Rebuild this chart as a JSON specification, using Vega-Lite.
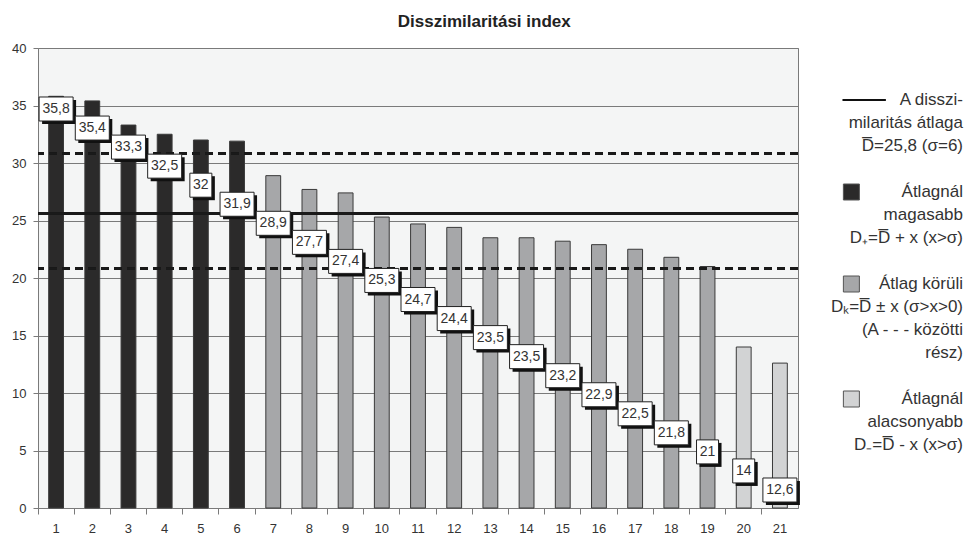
{
  "$schema": "https://vega.github.io/schema/vega-lite/v6.json",
  "padding": {"left": 5, "top": 12, "right": 5, "bottom": 0},
  "background": "white",
  "title": {"text": "Disszimilaritási index", "font": "Liberation Sans", "fontSize": 17, "fontWeight": "bold", "color": "#222222", "anchor": "middle", "frame": "bounds", "offset": 11},
  "config": {"font": "Liberation Sans", "concat": {"spacing": 0}},
  "spacing": 0,
  "datasets": {
    "bars": [
      {"k": 1, "value": 35.8, "label": "35,8", "grp": "magas"},
      {"k": 2, "value": 35.4, "label": "35,4", "grp": "magas"},
      {"k": 3, "value": 33.3, "label": "33,3", "grp": "magas"},
      {"k": 4, "value": 32.5, "label": "32,5", "grp": "magas"},
      {"k": 5, "value": 32, "label": "32", "grp": "magas"},
      {"k": 6, "value": 31.9, "label": "31,9", "grp": "magas"},
      {"k": 7, "value": 28.9, "label": "28,9", "grp": "korul"},
      {"k": 8, "value": 27.7, "label": "27,7", "grp": "korul"},
      {"k": 9, "value": 27.4, "label": "27,4", "grp": "korul"},
      {"k": 10, "value": 25.3, "label": "25,3", "grp": "korul"},
      {"k": 11, "value": 24.7, "label": "24,7", "grp": "korul"},
      {"k": 12, "value": 24.4, "label": "24,4", "grp": "korul"},
      {"k": 13, "value": 23.5, "label": "23,5", "grp": "korul"},
      {"k": 14, "value": 23.5, "label": "23,5", "grp": "korul"},
      {"k": 15, "value": 23.2, "label": "23,2", "grp": "korul"},
      {"k": 16, "value": 22.9, "label": "22,9", "grp": "korul"},
      {"k": 17, "value": 22.5, "label": "22,5", "grp": "korul"},
      {"k": 18, "value": 21.8, "label": "21,8", "grp": "korul"},
      {"k": 19, "value": 21, "label": "21", "grp": "korul"},
      {"k": 20, "value": 14, "label": "14", "grp": "alacsony"},
      {"k": 21, "value": 12.6, "label": "12,6", "grp": "alacsony"}
    ],
    "legend": [
      {"row": 0, "text": "A disszi-"},
      {"row": 1, "text": "milaritás átlaga"},
      {"row": 2, "text": "D\u0305=25,8 (σ=6)"},
      {"row": 4, "text": "Átlagnál"},
      {"row": 5, "text": "magasabb"},
      {"row": 6, "text": "D₊=D\u0305 + x (x>σ)"},
      {"row": 8, "text": "Átlag körüli"},
      {"row": 9, "text": "Dₖ=D\u0305 ± x (σ>x>0)"},
      {"row": 10, "text": "(A - - - közötti"},
      {"row": 11, "text": "rész)"},
      {"row": 13, "text": "Átlagnál"},
      {"row": 14, "text": "alacsonyabb"},
      {"row": 15, "text": "D₋=D\u0305 - x (x>σ)"},
      {"row": 0, "sym": "line"},
      {"row": 4, "sym": "magas"},
      {"row": 8, "sym": "korul"},
      {"row": 13, "sym": "alacsony"}
    ]
  },
  "hconcat": [
    {
      "width": 760,
      "height": 460,
      "view": {"fill": "#f4f5f5", "stroke": "#7a7a7a"},
      "data": {"name": "bars"},
      "layer": [
        {
          "layer": [
            {
              "mark": {"type": "bar", "width": {"band": 0.41}, "stroke": "#3a3a3a", "strokeWidth": 1},
              "encoding": {
                "x": {"field": "k", "type": "ordinal", "scale": {"paddingInner": 0, "paddingOuter": 0},
                  "axis": {"title": null, "labelAngle": 0, "bandPosition": 0, "tickSize": 6, "tickColor": "#7a7a7a", "domain": false, "labelFontSize": 13, "labelColor": "#333333", "labelPadding": 8, "grid": false}},
                "y": {"field": "value", "type": "quantitative", "scale": {"domain": [0, 40], "nice": false},
                  "axis": {"title": null, "values": [0, 5, 10, 15, 20, 25, 30, 35, 40], "grid": true, "gridColor": "#7a7a7a", "gridWidth": 1, "domain": false, "tickSize": 5, "tickColor": "#7a7a7a", "labelFontSize": 13, "labelColor": "#333333", "labelPadding": 7, "minExtent": 32, "maxExtent": 32}},
                "color": {"field": "grp", "type": "nominal", "scale": {"domain": ["magas", "korul", "alacsony"], "range": ["#2b2a2a", "#a6a7a9", "#d2d3d4"]}, "legend": null}
              }
            },
            {"mark": {"type": "rule", "color": "#1a1a1a", "strokeWidth": 2.5}, "encoding": {"y": {"datum": 25.6}}},
            {"mark": {"type": "rule", "color": "#1a1a1a", "strokeWidth": 2, "strokeDash": [8, 5]}, "encoding": {"y": {"datum": 30.8}}},
            {"mark": {"type": "rule", "color": "#1a1a1a", "strokeWidth": 2, "strokeDash": [8, 5]}, "encoding": {"y": {"datum": 20.8}}}
          ]
        },
        {
          "encoding": {
            "x": {"field": "k", "type": "ordinal"},
            "y": {"field": "k", "type": "quantitative", "scale": {"domain": [1, 21], "range": [61, 442], "zero": false, "nice": false}, "axis": null}
          },
          "layer": [
            {"transform": [{"filter": "length(datum.label) > 2"}], "mark": {"type": "point", "filled": true, "shape": "M-1,-0.706H1V0.706H-1Z", "size": 1156, "color": "#111111", "opacity": 1, "xOffset": 3, "yOffset": 3}},
            {"transform": [{"filter": "length(datum.label) <= 2"}], "mark": {"type": "point", "filled": true, "shape": "M-0.917,-1H0.917V1H-0.917Z", "size": 576, "color": "#111111", "opacity": 1, "xOffset": 3, "yOffset": 3}},
            {"transform": [{"filter": "length(datum.label) > 2"}], "mark": {"type": "point", "filled": true, "shape": "M-1,-0.706H1V0.706H-1Z", "size": 1156, "fill": "white", "stroke": "#222222", "strokeWidth": 1, "opacity": 1}},
            {"transform": [{"filter": "length(datum.label) <= 2"}], "mark": {"type": "point", "filled": true, "shape": "M-0.917,-1H0.917V1H-0.917Z", "size": 576, "fill": "white", "stroke": "#222222", "strokeWidth": 1, "opacity": 1}},
            {"mark": {"type": "text", "fontSize": 14, "color": "#333333", "baseline": "middle", "align": "center"}, "encoding": {"text": {"field": "label"}}}
          ]
        }
      ],
      "resolve": {"scale": {"y": "independent"}}
    },
    {
      "width": 162,
      "height": 460,
      "view": {"stroke": null},
      "data": {"name": "legend"},
      "encoding": {
        "y": {"field": "row", "type": "quantitative", "scale": {"domain": [0, 15], "range": [52, 397], "zero": false, "nice": false}, "axis": null}
      },
      "layer": [
        {
          "transform": [{"filter": "isValid(datum.text)"}],
          "mark": {"type": "text", "align": "right", "baseline": "middle", "fontSize": 17, "color": "#333333"},
          "encoding": {"x": {"datum": 1, "type": "quantitative", "scale": {"domain": [0, 1], "nice": false, "zero": false}, "axis": null}, "text": {"field": "text"}}
        },
        {
          "transform": [{"filter": "datum.sym == 'line'"}],
          "mark": {"type": "rule", "color": "#111111", "strokeWidth": 2},
          "encoding": {"x": {"datum": 0.256, "type": "quantitative"}, "x2": {"datum": 0.524}}
        },
        {
          "transform": [{"filter": "isValid(datum.sym) && datum.sym != 'line'"}],
          "mark": {"type": "point", "shape": "square", "filled": true, "size": 256, "stroke": "#555555", "strokeWidth": 1, "opacity": 1},
          "encoding": {
            "x": {"datum": 0.311, "type": "quantitative"},
            "color": {"field": "sym", "type": "nominal", "scale": {"domain": ["magas", "korul", "alacsony"], "range": ["#2b2a2a", "#a6a7a9", "#d2d3d4"]}, "legend": null}
          }
        }
      ]
    }
  ]
}
